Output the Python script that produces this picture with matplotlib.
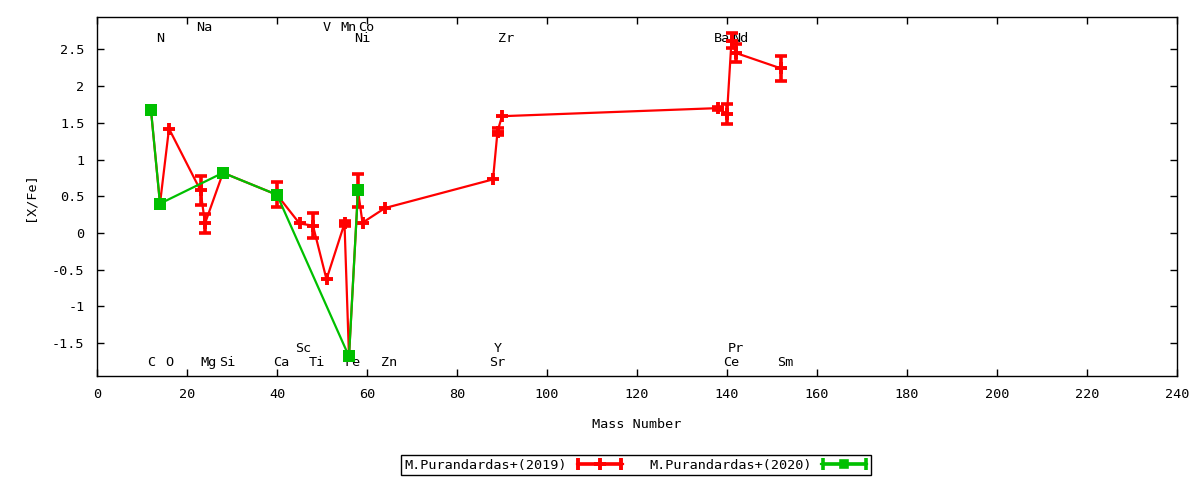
import numpy as np
import matplotlib
matplotlib.use("Agg")
import matplotlib.pyplot as plt
from matplotlib.ticker import FuncFormatter, MultipleLocator
from matplotlib.legend_handler import HandlerErrorbar

# --- data: [X/Fe] against mass number ---
mass_2019 = [12, 14, 16, 23, 24, 28, 40, 45, 48, 51, 55, 56, 58, 59, 64,
             88, 89, 90, 138, 140, 141, 142, 152]
xfe_2019 = [1.67, 0.40, 1.42, 0.58, 0.13, 0.82, 0.52, 0.13, 0.10, -0.63, 0.13,
            -1.68, 0.58, 0.14, 0.34, 0.73, 1.38, 1.59, 1.70, 1.62, 2.62, 2.45, 2.24]
err_2019 = [0.0, 0.0, 0.0, 0.20, 0.13, 0.04, 0.17, 0.0, 0.17, 0.0, 0.03,
            0.0, 0.23, 0.0, 0.0, 0.0, 0.05, 0.0, 0.02, 0.13, 0.10, 0.12, 0.17]

mass_2020 = [12, 14, 28, 40, 56, 58]
xfe_2020 = [1.67, 0.40, 0.82, 0.52, -1.68, 0.58]
err_2020 = [0, 0, 0, 0, 0, 0]

# element labels, by mass number
element_mass = {'C': 12, 'N': 14, 'O': 16, 'Na': 23, 'Mg': 24, 'Si': 28,
                'Ca': 40, 'Sc': 45, 'Ti': 48, 'V': 51, 'Mn': 55, 'Fe': 56,
                'Ni': 58, 'Co': 59, 'Zn': 64, 'Sr': 88, 'Y': 89, 'Zr': 90,
                'Ba': 138, 'Ce': 140, 'Pr': 141, 'Nd': 142, 'Sm': 152}
top_upper = ['Na', 'V', 'Mn', 'Co']
top_lower = ['N', 'Ni', 'Zr', 'Ba', 'Nd']
bottom_upper = ['Sc', 'Y', 'Pr']
bottom_lower = ['C', 'O', 'Mg', 'Si', 'Ca', 'Ti', 'Fe', 'Zn', 'Sr', 'Ce', 'Sm']

RED = '#ff0000'
GREEN = '#00c000'

plt.rcParams['font.family'] = ['DejaVu Sans Mono']
plt.rcParams['font.size'] = 9.7
plt.rcParams['axes.unicode_minus'] = False

fig = plt.figure(figsize=(12, 4.8), dpi=100)
ax = fig.add_axes([97 / 1200, 1 - 376 / 480, 1080 / 1200, 359 / 480])


def draw_series(x, y, err, color, marker, ms, mew, z):
    x = np.asarray(x, float)
    y = np.asarray(y, float)
    err = np.asarray(err, float)
    ax.plot(x, y, color=color, lw=1.6, marker=marker, ms=ms, mew=mew, zorder=z)
    m = err > 0
    if m.any():
        ax.errorbar(x[m], y[m], yerr=err[m], fmt='none', ecolor=color,
                    elinewidth=2.6, capsize=4, capthick=2.6, zorder=z)


draw_series(mass_2019, xfe_2019, err_2019, RED, '+', 8.5, 2.8, 3)
draw_series(mass_2020, xfe_2020, err_2020, GREEN, 's', 8, 0, 4)

# element names
rows = [(top_upper, 2.80), (top_lower, 2.65),
        (bottom_upper, -1.57), (bottom_lower, -1.76)]
for names, ylev in rows:
    for nm in names:
        ax.annotate(nm, (element_mass[nm], ylev), xytext=(-3, 0),
                    textcoords='offset points', ha='left', va='center',
                    fontsize=9.7, zorder=2)

ax.set_xlim(0, 240)
ax.set_ylim(-1.946, 2.94)
ax.xaxis.set_major_locator(MultipleLocator(20))
ax.yaxis.set_major_locator(MultipleLocator(0.5))
ax.yaxis.set_major_formatter(FuncFormatter(lambda v, p: '%g' % round(v, 2)))
ax.tick_params(direction='in', length=5, width=1, top=True, right=True)
ax.tick_params(axis='y', pad=9)
ax.tick_params(axis='x', pad=9)
for sp in ax.spines.values():
    sp.set_linewidth(1)

ax.set_xlabel('Mass Number', labelpad=12)
ax.set_ylabel('[X/Fe]', labelpad=11)

# legend samples drawn like gnuplot keys: horizontal bar with end caps
p19 = ax.errorbar([np.nan], [np.nan], xerr=[1], color=RED, lw=1.6,
                  marker='+', ms=8.5, mew=2.8, elinewidth=2.6, capsize=4,
                  capthick=2.6)
p20 = ax.errorbar([np.nan], [np.nan], xerr=[1], color=GREEN, lw=1.6,
                  marker='s', ms=4.5, mew=2.6, mec=GREEN, elinewidth=2.6,
                  capsize=4, capthick=2.6)
leg = fig.legend([p19, p20], ['M.Purandardas+(2019)', 'M.Purandardas+(2020)'],
                 loc='center', bbox_to_anchor=(636 / 1200, 1 - 465 / 480),
                 ncol=2, markerfirst=False, handlelength=3.4,
                 columnspacing=2.0, handletextpad=0.7, borderpad=0.25,
                 fancybox=False, edgecolor='black', framealpha=1,
                 handler_map={type(p19): HandlerErrorbar(xerr_size=1.6)})
leg.get_frame().set_linewidth(1)

fig.savefig('out.png', dpi=100)
